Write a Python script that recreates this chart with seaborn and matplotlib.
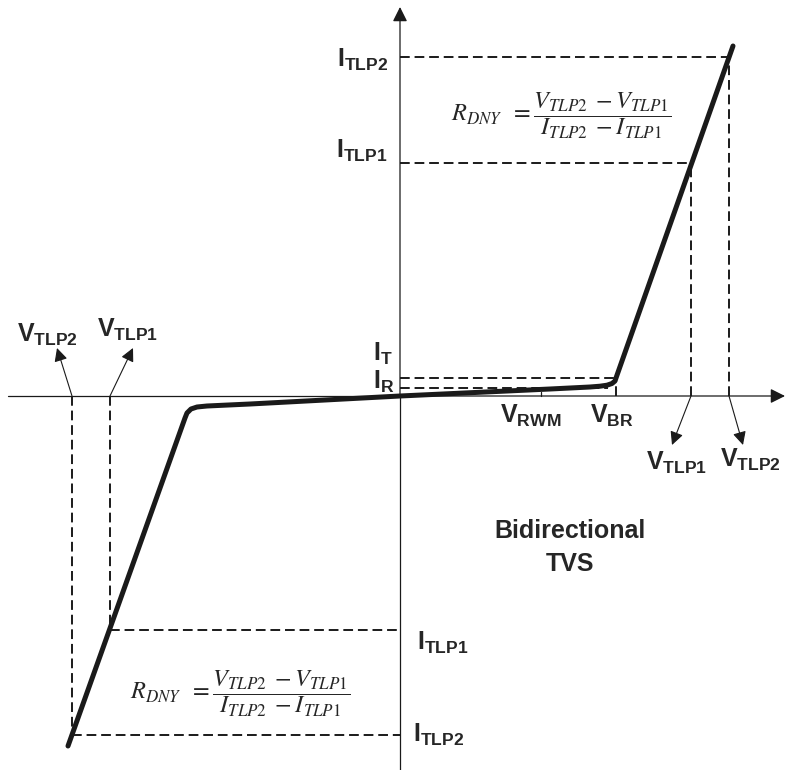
import numpy as np
import pandas as pd
import seaborn as sns
import matplotlib.pyplot as plt

# I-V curve of the bidirectional TVS (arbitrary units, origin at the axes crossing)
v_curve = [-332, -215, -213, -209, -203, -193, -150, 0, 150, 190, 200, 207, 212, 215, 216, 333]
i_curve = [-350, -22, -17, -13, -11, -10, -8, 0, 7, 9, 9.8, 10.8, 12.5, 15, 18, 350]

# characteristic points
v_rwm = 141
v_br = 216
i_t = 18
i_r = 8
v_tlp1_pos, v_tlp2_pos = 291, 329
i_tlp1_pos, i_tlp2_pos = 233, 339
v_tlp1_neg, v_tlp2_neg = -290, -328
i_tlp1_neg, i_tlp2_neg = -234, -339

sns.set(style="white")
plt.rcParams["font.family"] = ["Liberation Sans", "DejaVu Sans"]
plt.rcParams["mathtext.fontset"] = "custom"
plt.rcParams["mathtext.rm"] = "Liberation Sans:bold"
plt.rcParams["mathtext.it"] = "Liberation Sans:bold"
plt.rcParams["mathtext.bf"] = "Liberation Sans:bold"

fig = plt.figure(figsize=(7.85, 7.7), dpi=100)
ax = fig.add_axes([0, 0, 1, 1])

# axes with arrow heads
ax.plot([-392, 0], [0, 0], color="k", lw=0.9)
ax.plot([0, 0], [-374, 0], color="k", lw=0.9)
ax.annotate("", xy=(385, 0), xytext=(0, 0),
            arrowprops=dict(arrowstyle="-|>", color="k", lw=0.9, mutation_scale=22,
                            shrinkA=0, shrinkB=0))
ax.annotate("", xy=(0, 389), xytext=(0, 0),
            arrowprops=dict(arrowstyle="-|>", color="k", lw=0.9, mutation_scale=22,
                            shrinkA=0, shrinkB=0))

# dashed guide lines
dash = dict(color="k", lw=1.4, linestyle=(0, (5, 2.5)))
ax.plot([0, v_tlp2_pos], [i_tlp2_pos, i_tlp2_pos], **dash)
ax.plot([0, v_tlp1_pos], [i_tlp1_pos, i_tlp1_pos], **dash)
ax.plot([v_tlp1_pos, v_tlp1_pos], [0, i_tlp1_pos], **dash)
ax.plot([v_tlp2_pos, v_tlp2_pos], [0, i_tlp2_pos], **dash)
ax.plot([0, v_br], [i_t, i_t], **dash)
ax.plot([0, 208], [i_r, i_r], **dash)
ax.plot([v_br, v_br], [0, i_t], **dash)
ax.plot([v_tlp1_neg, 0], [i_tlp1_neg, i_tlp1_neg], **dash)
ax.plot([v_tlp2_neg, 0], [i_tlp2_neg, i_tlp2_neg], **dash)
ax.plot([v_tlp1_neg, v_tlp1_neg], [0, i_tlp1_neg], **dash)
ax.plot([v_tlp2_neg, v_tlp2_neg], [0, i_tlp2_neg], **dash)
ax.plot([v_rwm, v_rwm], [0, 4], color="k", lw=0.9)

# the curve
df = pd.DataFrame({"V": v_curve, "I": i_curve})
sns.lineplot(data=df, x="V", y="I", sort=False, estimator=None, color="k",
             linewidth=3.6, solid_capstyle="round", solid_joinstyle="round", ax=ax)
ax.set_xlim(-400, 385)
ax.set_ylim(-374, 396)
ax.axis("off")

# labels (baseline of the main letter)
def lab(x, y, main, sub, ha="left"):
    ax.text(x, y, r"$\mathrm{%s}_{\mathrm{%s}}$" % (main, sub), fontsize=18,
            ha=ha, va="baseline")

lab(-63, 329, "I", "TLP2")
lab(-64, 238, "I", "TLP1")
lab(-27, 35, "I", "T")
lab(-27, 7, "I", "R")
lab(17, -254, "I", "TLP1")
lab(13, -346, "I", "TLP2")
lab(100, -27, "V", "RWM")
lab(190, -27, "V", "BR")
lab(246, -74, "V", "TLP1")
lab(320, -71, "V", "TLP2")
lab(-383, 54, "V", "TLP2")
lab(-303, 59, "V", "TLP1")

# arrows from the axis to the voltage labels
arr = dict(arrowstyle="-|>", color="k", lw=0.8, mutation_scale=20, shrinkA=0, shrinkB=0)
ax.annotate("", xy=(272, -49), xytext=(v_tlp1_pos, 0), arrowprops=arr)
ax.annotate("", xy=(343, -49), xytext=(v_tlp2_pos, 0), arrowprops=arr)
ax.annotate("", xy=(-343, 48), xytext=(v_tlp2_neg, 0), arrowprops=arr)
ax.annotate("", xy=(-267, 48), xytext=(v_tlp1_neg, 0), arrowprops=arr)

ax.text(170, -142, "Bidirectional", fontsize=18, fontweight="bold", ha="center", va="baseline")
ax.text(170, -175, "TVS", fontsize=18, fontweight="bold", ha="center", va="baseline")

formula = r"$R_{DNY}\;\;=\dfrac{V_{TLP2}\;-V_{TLP1}}{I_{TLP2}\;-I_{TLP1}}$"
ax.text(161, 280, formula, fontsize=17.5, ha="center", va="center", math_fontfamily="stix")
ax.text(-160, -298, formula, fontsize=17.5, ha="center", va="center", math_fontfamily="stix")

plt.savefig("out.png", dpi=100)
